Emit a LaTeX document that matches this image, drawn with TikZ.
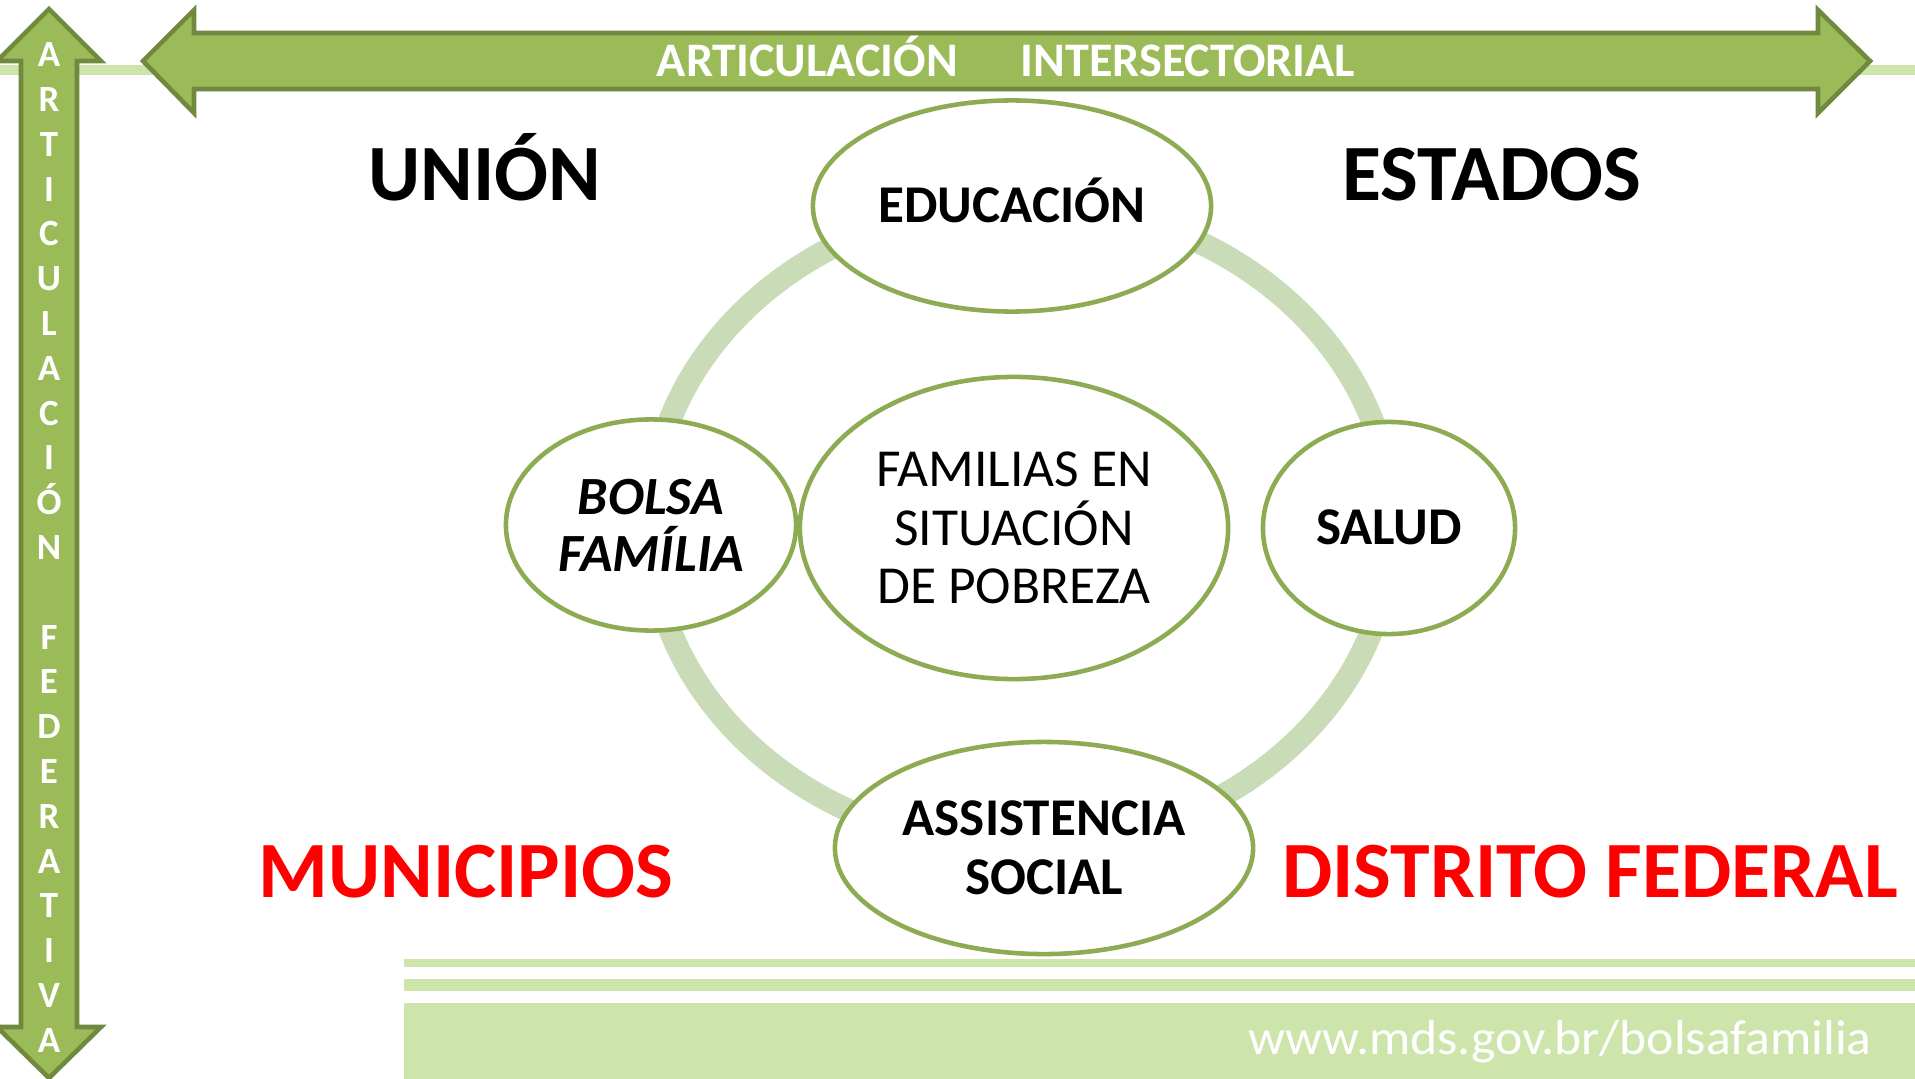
\documentclass[tikz,border=0pt]{standalone}
\usepackage{fontspec}
\setmainfont{Carlito}
\usepackage{tikz}
\usetikzlibrary{positioning,shapes.geometric}

\definecolor{arrowgreen}{RGB}{155,187,89}
\definecolor{arrowdark}{RGB}{113,137,63}
\definecolor{barlight}{RGB}{205,228,170}
\definecolor{ringgreen}{RGB}{202,219,184}
\definecolor{edgegreen}{RGB}{141,171,82}

\tikzset{
  bigarrow/.style={fill=arrowgreen, draw=arrowdark, line width=1.3pt},
  cyc/.style={ellipse, draw=edgegreen, line width=1.3pt, fill=white, inner sep=0pt, align=center},
  cyctext/.style={font=\bfseries\fontsize{15.1}{16.5}\selectfont, text height=9.5pt, text depth=0pt},
  corner/.style={font=\bfseries\fontsize{22.7}{24}\selectfont, anchor=base},
  vletter/.style={text=white, font=\bfseries\fontsize{10.5}{12}\selectfont, inner sep=0pt,
    text height=6.6pt, text depth=0pt}
}

\begin{document}
\begin{tikzpicture}[x=0.01cm, y=-0.01cm]
        \useasboundingbox (0,0) rectangle (1915,1079);
        \fill[white] (0,0) rectangle (1915,1079);

        % thin line behind the arrows
        \fill[barlight] (0,65) rectangle (1915,75);

        \draw[bigarrow] (143,61) -- (194,10) -- (194,33) -- (1818,33) -- (1818,10) -- (1870,61)
        -- (1818,113) -- (1818,89) -- (194,89) -- (194,113) -- cycle;
        \draw[bigarrow] (49,9) -- (101,61) -- (77,61) -- (77,1027) -- (101,1027) -- (49,1078)
        -- (-3,1027) -- (21,1027) -- (21,61) -- (-3,61) -- cycle;

        \node[text=white, anchor=base, font=\bfseries\fontsize{13.7}{15}\selectfont] (inter) at (1006,77)
        {ARTICULACIÓN\hspace{1.3em}INTERSECTORIAL};

        \foreach \l [count=\i] in {A,R,T,I,C,U,L,A,C,I,Ó,N,{},F,E,D,E,R,A,T,I,V,A}
            \node[vletter] (v\i) at (49, 55+44.8*\i-44.8) {\l};

        % cycle
        \draw[ringgreen, line width=0.23cm] (1021,525) ellipse [x radius=3.71cm, y radius=3.22cm];

        \node[cyc, minimum width=3.98cm, minimum height=2.11cm, cyctext] (edu) at (1012,206)
        {EDUCACIÓN};
        \node[cyc, minimum width=2.90cm, minimum height=2.11cm, font=\bfseries\itshape\fontsize{15.3}{16.2}\selectfont] (bolsa) at (651,525)
        {BOLSA\\FAMÍLIA};
        \node[cyc, minimum width=4.28cm, minimum height=3.02cm, font=\fontsize{15.2}{16.7}\selectfont] (fam) at (1014,528)
        {FAMILIAS EN\\SITUACIÓN\\DE POBREZA};
        \node[cyc, minimum width=2.52cm, minimum height=2.12cm, cyctext] (salud) at (1389,528)
        {SALUD};
        \node[cyc, minimum width=4.18cm, minimum height=2.12cm, font=\bfseries\fontsize{15.1}{16.8}\selectfont] (asist) at (1044,848)
        {ASSISTENCIA\\SOCIAL};

        % levels
        \node[corner] (union) at (485,201) {UNIÓN};
        \node[corner] (estados) at (1492,201) {ESTADOS};
        \node[corner, text=red] (munic) at (466,897) {MUNICIPIOS};
        \node[corner, text=red] (df) at (1590,897) {DISTRITO FEDERAL};

        % footer
        \fill[barlight] (404,959) rectangle (1915,967);
        \fill[barlight] (404,979) rectangle (1915,991);
        \fill[barlight] (404,1003) rectangle (1915,1079);
        \node[text=white, font=\fontsize{14}{16}\selectfont, xscale=1.05] (url) at (1560,1042)
        {www.mds.gov.br/bolsafamilia};
    \end{tikzpicture}
\end{document}
